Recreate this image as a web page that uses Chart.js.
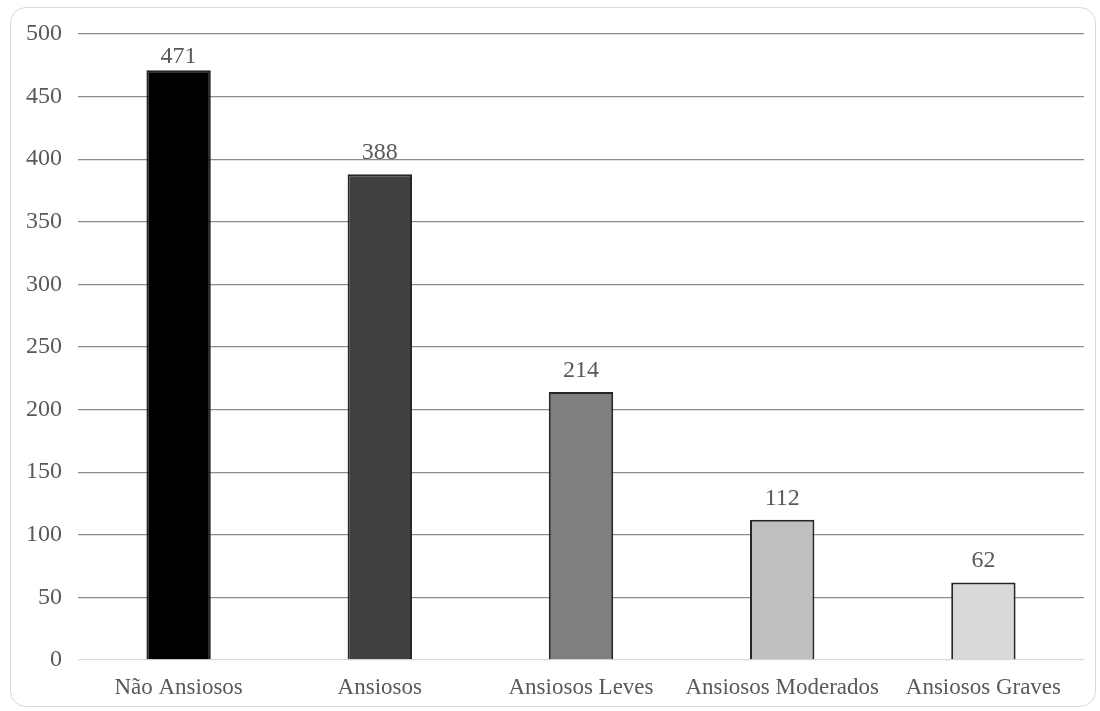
<!DOCTYPE html>
<html><head><meta charset="utf-8">
<script src="https://cdn.jsdelivr.net/npm/chart.js@4"></script>
<style>
html,body{margin:0;padding:0;background:#fff;}
#wrap{position:absolute;left:0;top:0;width:1100px;height:711px;}
#frame{position:absolute;left:10px;top:7px;width:1086px;height:700px;border:1px solid #d9d9d9;border-radius:16px;box-sizing:border-box;pointer-events:none;}
</style></head>
<body>
<div id="wrap"><canvas id="c" width="1100" height="711"></canvas><div id="frame"></div></div>
<script>
const categories = ["Não Ansiosos","Ansiosos","Ansiosos Leves","Ansiosos Moderados","Ansiosos Graves"];
const values = [471,388,214,112,62];
const barColors = ["#000000","#404040","#7f7f7f","#bfbfbf","#d9d9d9"];
const yMin = 0, yMax = 500, yStep = 50;

const FAMILY = "'Liberation Serif','Times New Roman',serif";
const FONT_NUM = {family:FAMILY, size:24};
const FONT_CAT = {family:FAMILY, size:23};
const TEXT = "#595959";

const labelPlugin = {
  id:'valueLabels',
  afterDatasetsDraw(chart){
    const ctx = chart.ctx;
    const meta = chart.getDatasetMeta(0);
    ctx.save();
    ctx.font = FONT_NUM.size + "px " + FONT_NUM.family;
    ctx.fillStyle = TEXT;
    ctx.textAlign = 'center';
    ctx.textBaseline = 'alphabetic';
    meta.data.forEach((bar,i)=>{
      const yb = Math.max(bar.y - 15, chart.chartArea.top + 29);
      ctx.fillText(String(values[i]), bar.x, yb);
    });
    ctx.restore();
  }
};

new Chart(document.getElementById('c'), {
  type:'bar',
  data:{labels:categories, datasets:[{data:values, backgroundColor:barColors, borderColor:'#262626', borderWidth:2, barPercentage:0.64, categoryPercentage:0.5}]},
  options:{
    responsive:false, animation:false, devicePixelRatio:1,
    layout:{padding:{left:0,right:16,top:34,bottom:0}},
    plugins:{legend:{display:false}, tooltip:{enabled:false}},
    scales:{
      x:{
        grid:{display:false, drawTicks:false},
        border:{display:false},
        ticks:{color:TEXT, font:FONT_CAT, padding:14, maxRotation:0, autoSkip:false},
        afterFit(s){ s.height = 51; }
      },
      y:{
        min:yMin, max:yMax,
        grid:{drawTicks:false, color:(c)=> c.tick && c.tick.value===0 ? '#d9d9d9' : '#8c8c8c', lineWidth:1.3},
        border:{display:false},
        ticks:{stepSize:yStep, color:TEXT, font:FONT_NUM, padding:16},
        afterFit(s){ s.width = 78; }
      }
    }
  },
  plugins:[labelPlugin]
});
</script>
</body></html>
